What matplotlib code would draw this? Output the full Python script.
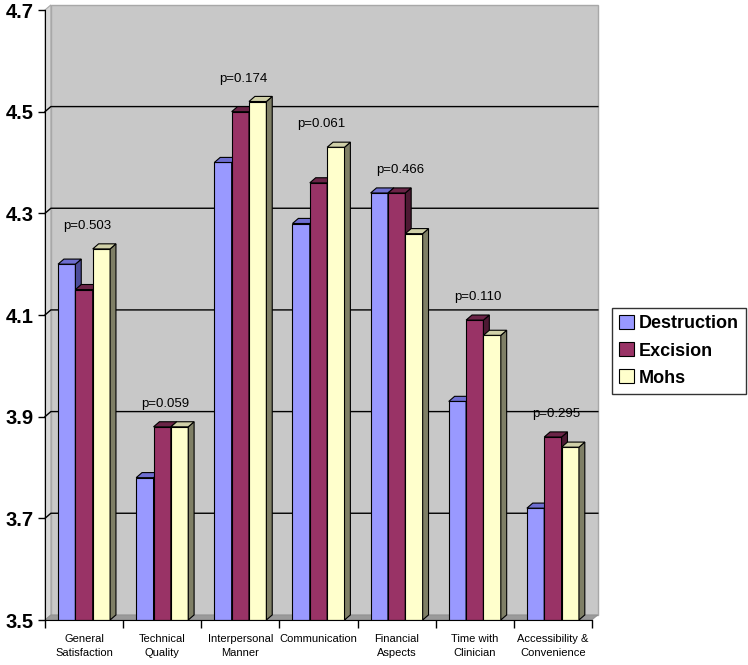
import matplotlib.pyplot as plt
from matplotlib.patches import Polygon
import numpy as np

plt.rcParams['font.family'] = ['Liberation Sans', 'DejaVu Sans']

# ---- data ----
categories = ['General\nSatisfaction', 'Technical\nQuality', 'Interpersonal\nManner',
              'Communication', 'Financial\nAspects', 'Time with\nClinician',
              'Accessibility &\nConvenience']
series_names = ['Destruction', 'Excision', 'Mohs']
destruction = [4.20, 3.78, 4.40, 4.28, 4.34, 3.93, 3.72]
excision = [4.15, 3.88, 4.50, 4.36, 4.34, 4.09, 3.86]
mohs = [4.23, 3.88, 4.52, 4.43, 4.26, 4.06, 3.84]
p_values = ['0.503', '0.059', '0.174', '0.061', '0.466', '0.110', '0.295']
y_ticks = [3.5, 3.7, 3.9, 4.1, 4.3, 4.5, 4.7]

# ---- styling ----
front_col = ['#9999ff', '#993366', '#ffffcc']
side_col = ['#4c4c99', '#4d1933', '#7f7f66']
top_col = ['#6e6ed0', '#6b2447', '#d0d0a8']
wall_col = '#c8c8c8'

fig = plt.figure(figsize=(7.48, 6.65), dpi=100)
ax = fig.add_axes([45 / 748, 45 / 665, 547 / 748, 610 / 665])
y0, y1 = y_ticks[0], y_ticks[-1]
ax.set_xlim(-0.5, len(categories) - 0.5)
ax.set_ylim(y0, y1)
ax.set_facecolor('none')
xr_end = len(categories) - 0.5
dx, dy = 0.075, 0.010  # 3-D depth offset

# back wall, left wall, floor
ax.add_patch(Polygon([(-0.5 + dx, y0 + dy), (xr_end + dx, y0 + dy), (xr_end + dx, y1 + dy),
                      (-0.5 + dx, y1 + dy)], closed=True, facecolor=wall_col,
                     edgecolor='#a8a8a8', lw=1, clip_on=False, zorder=0))
ax.add_patch(Polygon([(-0.5, y0), (-0.5 + dx, y0 + dy), (-0.5 + dx, y1 + dy), (-0.5, y1)],
                     closed=True, facecolor='#d8d8d8', edgecolor='#a8a8a8', lw=0.8,
                     clip_on=False, zorder=0.5))
ax.add_patch(Polygon([(-0.5, y0), (xr_end, y0), (xr_end + dx, y0 + dy), (-0.5 + dx, y0 + dy)],
                     closed=True, facecolor='#9a9a9a', edgecolor='#8a8a8a', lw=0.5,
                     clip_on=False, zorder=0.5))
for v in y_ticks[1:-1]:
    ax.plot([-0.5, -0.5 + dx, xr_end + dx], [v, v + dy, v + dy], color='black', lw=1,
            clip_on=False, zorder=1)

# bars with 3-D faces
w = 0.222
x = np.arange(len(categories))
all_vals = [destruction, excision, mohs]
for i, vals in enumerate(all_vals):
    xl = x + (i - 1.5) * w
    z = 3 + i
    ax.bar(xl, np.array(vals) - y0, bottom=y0, width=w, align='edge', color=front_col[i],
           edgecolor='black', lw=0.8, zorder=z, label=series_names[i])
    for xx, v in zip(xl, vals):
        xr = xx + w
        ax.add_patch(Polygon([(xr, y0), (xr + dx, y0 + dy), (xr + dx, v + dy), (xr, v)],
                             closed=True, facecolor=side_col[i], edgecolor='black', lw=0.8,
                             zorder=z))
        ax.add_patch(Polygon([(xx, v), (xx + dx, v + dy), (xr + dx, v + dy), (xr, v)],
                             closed=True, facecolor=top_col[i], edgecolor='black', lw=0.8,
                             zorder=z))

# p-value annotations
for j, p in enumerate(p_values):
    top = max(destruction[j], excision[j], mohs[j])
    ax.text(j + 0.04, top + 0.045, 'p=' + p, ha='center', va='center', fontsize=9.5, zorder=10)

# axes
for s in ['top', 'right']:
    ax.spines[s].set_visible(False)
ax.spines['left'].set_zorder(2)
ax.spines['bottom'].set_zorder(8)
ax.set_yticks(y_ticks)
ax.set_yticklabels([f'{t:.1f}' for t in y_ticks], fontsize=14.5, fontweight='bold')
ax.tick_params(axis='y', length=5, width=1, pad=3)
ax.set_xticks(x)
ax.set_xticklabels(categories, fontsize=8, linespacing=1.55)
ax.set_xticks(np.arange(len(categories) + 1) - 0.5, minor=True)
ax.tick_params(axis='x', which='major', length=0, pad=10)
ax.tick_params(axis='x', which='minor', length=6, width=1, direction='out')

leg = ax.legend(loc='upper left', bbox_to_anchor=(612 / 748, 1 - 308 / 665),
                bbox_transform=fig.transFigure, frameon=True, fancybox=False,
                prop={'size': 13, 'weight': 'bold'}, handlelength=0.8, handleheight=0.8,
                handletextpad=0.3, labelspacing=0.55, borderpad=0.4, borderaxespad=0)
leg.get_frame().set_edgecolor('black')
leg.get_frame().set_linewidth(1)

fig.savefig('out.png', dpi=100)
